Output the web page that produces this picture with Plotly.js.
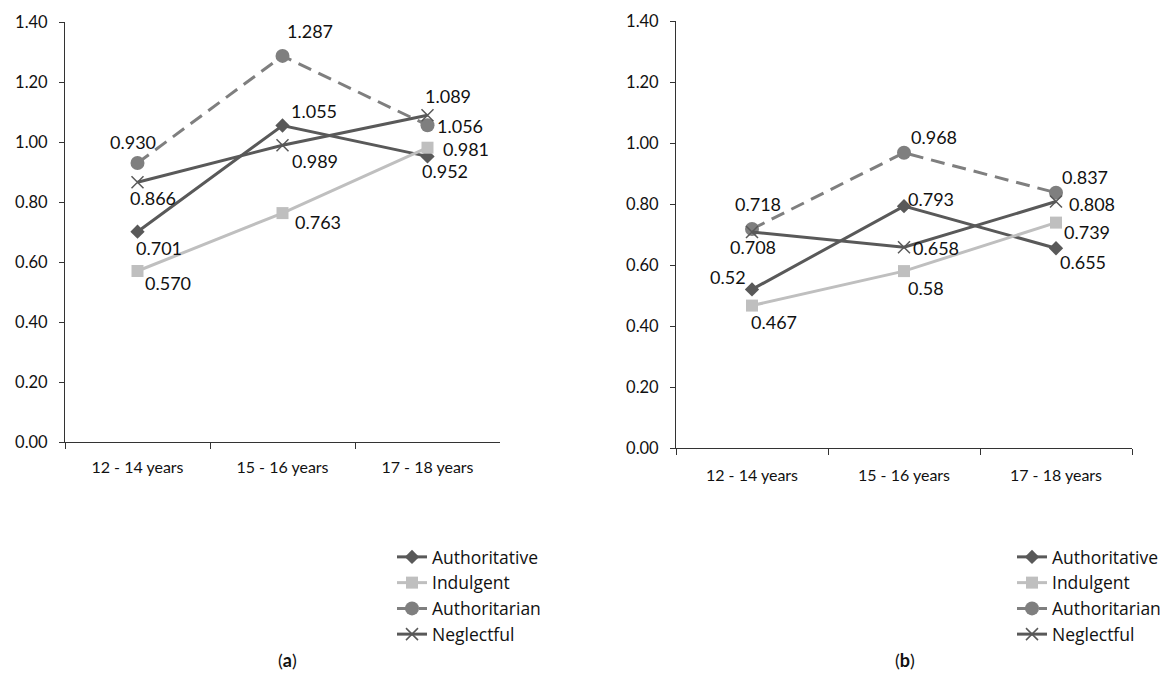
<!DOCTYPE html>
<html>
<head>
<meta charset="utf-8">
<script src="https://cdn.plot.ly/plotly-3.0.1.min.js"></script>
<style>html,body{margin:0;padding:0;background:#fff;}#chart{width:1168px;height:679px;}</style>
</head>
<body>
<div id="chart"></div>
<script>
// ---- data ----
var categories = ["12 - 14 years", "15 - 16 years", "17 - 18 years"];
var seriesNames = ["Authoritative", "Indulgent", "Authoritarian", "Neglectful"];

// panel (a)
var authoritativeA = [0.701, 1.055, 0.952];
var indulgentA     = [0.570, 0.763, 0.981];
var authoritarianA = [0.930, 1.287, 1.056];
var neglectfulA    = [0.866, 0.989, 1.089];
var labelsAuthoritativeA = ["0.701", "1.055", "0.952"];
var labelsIndulgentA     = ["0.570", "0.763", "0.981"];
var labelsAuthoritarianA = ["0.930", "1.287", "1.056"];
var labelsNeglectfulA    = ["0.866", "0.989", "1.089"];

// panel (b)
var authoritativeB = [0.52, 0.793, 0.655];
var indulgentB     = [0.467, 0.58, 0.739];
var authoritarianB = [0.718, 0.968, 0.837];
var neglectfulB    = [0.708, 0.658, 0.808];
var labelsAuthoritativeB = ["0.52", "0.793", "0.655"];
var labelsIndulgentB     = ["0.467", "0.58", "0.739"];
var labelsAuthoritarianB = ["0.718", "0.968", "0.837"];
var labelsNeglectfulB    = ["0.708", "0.658", "0.808"];

var yTickVals = [0, 0.2, 0.4, 0.6, 0.8, 1.0, 1.2, 1.4];

// ---- styles ----
var FONT = "Lato, 'Open Sans', sans-serif";
var LEGFONT = "'Open Sans', Lato, sans-serif";
var TXT = "#111";
var styles = [
  {color: "#595959", symbol: "diamond", msize: 11, dash: "solid", mline: 0},
  {color: "#BFBFBF", symbol: "square", msize: 12, dash: "solid", mline: 0},
  {color: "#7F7F7F", symbol: "circle", msize: 14, dash: "14px,8px", mline: 0},
  {color: "#595959", symbol: "x-thin", msize: 12, dash: "solid", mline: 1.5}
];

// label offsets in pixels [dx, dy(down)] per series per point
var offsetsA = [
  [[21, 16], [31, -15], [17, 15]],
  [[30, 12], [35, 9], [38, 1]],
  [[-5, -21], [27, -25], [32, 1]],
  [[15, 16], [32, 16], [20, -19]]
];
var offsetsB = [
  [[-24, -12], [27, -7], [27, 14]],
  [[22, 16], [22, 17], [31, 9]],
  [[6, -25], [30, -16], [29, -16]],
  [[1, 15], [32, 1], [36, 2]]
];

var dataA = [authoritativeA, indulgentA, authoritarianA, neglectfulA];
var dataB = [authoritativeB, indulgentB, authoritarianB, neglectfulB];
var labA = [labelsAuthoritativeA, labelsIndulgentA, labelsAuthoritarianA, labelsNeglectfulA];
var labB = [labelsAuthoritativeB, labelsIndulgentB, labelsAuthoritarianB, labelsNeglectfulB];

var traces = [];
var annotations = [];

function addPanel(data, labels, offsets, xa, ya, legendId) {
  for (var s = 0; s < data.length; s++) {
    var st = styles[s];
    var marker = {symbol: st.symbol, size: st.msize, color: st.color};
    if (st.mline) marker.line = {color: st.color, width: st.mline};
    else marker.line = {width: 0};
    traces.push({
      type: "scatter", mode: "lines+markers",
      x: categories, y: data[s], name: seriesNames[s],
      xaxis: xa, yaxis: ya, legend: legendId,
      line: {color: st.color, width: 3, dash: st.dash},
      marker: marker, hoverinfo: "x+y"
    });
    for (var i = 0; i < data[s].length; i++) {
      annotations.push({
        xref: xa, yref: ya, x: categories[i], y: data[s][i],
        text: labels[s][i], showarrow: false,
        xanchor: "center", yanchor: "middle",
        xshift: offsets[s][i][0], yshift: -offsets[s][i][1],
        font: {family: FONT, size: 18, color: TXT}
      });
    }
  }
}
addPanel(dataA, labA, offsetsA, "x", "y", "legend");
addPanel(dataB, labB, offsetsB, "x2", "y2", "legend2");

var W = 1168, H = 679;
function px(v) { return v / W; }
function py(v) { return 1 - v / H; }

annotations.push({xref: "paper", yref: "paper", x: px(287), y: py(660), text: "(<b>a</b>)", showarrow: false,
  xanchor: "center", yanchor: "middle", font: {family: FONT, size: 18, color: TXT}});
annotations.push({xref: "paper", yref: "paper", x: px(905), y: py(660), text: "(<b>b</b>)", showarrow: false,
  xanchor: "center", yanchor: "middle", font: {family: FONT, size: 18, color: TXT}});

function xAxis(domain, standoff) {
  return {
    domain: domain, type: "category", range: [-0.5, 2.5],
    showline: true, linecolor: "#333", linewidth: 1,
    ticks: "outside", tickson: "boundaries", ticklen: 6, tickcolor: "#333",
    showgrid: false, zeroline: false, fixedrange: true,
    ticklabelstandoff: standoff,
    tickfont: {family: FONT, size: 16, color: TXT}
  };
}
function yAxis(domain, anchor, standoff) {
  return {
    domain: domain, anchor: anchor, range: [0, 1.4],
    tickvals: yTickVals, tickformat: ".2f",
    showline: true, linecolor: "#333", linewidth: 1,
    ticks: "outside", ticklen: 5, tickcolor: "#333",
    showgrid: false, zeroline: false, fixedrange: true,
    ticklabelstandoff: standoff,
    tickfont: {family: FONT, size: 16.5, color: TXT}
  };
}

var legendBase = {
  font: {family: LEGFONT, size: 17.5, color: TXT},
  bgcolor: "rgba(0,0,0,0)", borderwidth: 0,
  yanchor: "top", xanchor: "left", tracegroupgap: 0, itemclick: false, itemdoubleclick: false
};

var layout = {
  width: W, height: H,
  margin: {l: 0, r: 0, t: 0, b: 0},
  paper_bgcolor: "#fff", plot_bgcolor: "#fff",
  showlegend: true,
  xaxis: Object.assign(xAxis([px(65), px(500)], 11), {anchor: "y"}),
  yaxis: yAxis([1 - 442 / H, 1 - 22 / H], "x", 8),
  xaxis2: Object.assign(xAxis([px(676), px(1132)], 13), {anchor: "y2"}),
  yaxis2: yAxis([1 - 448 / H, 1 - 21 / H], "x2", 8),
  legend: Object.assign({}, legendBase, {x: px(392), y: py(539)}),
  legend2: Object.assign({}, legendBase, {x: px(1012), y: py(539)}),
  annotations: annotations
};

Plotly.newPlot("chart", traces, layout, {displayModeBar: false, staticPlot: true});
</script>
</body>
</html>
